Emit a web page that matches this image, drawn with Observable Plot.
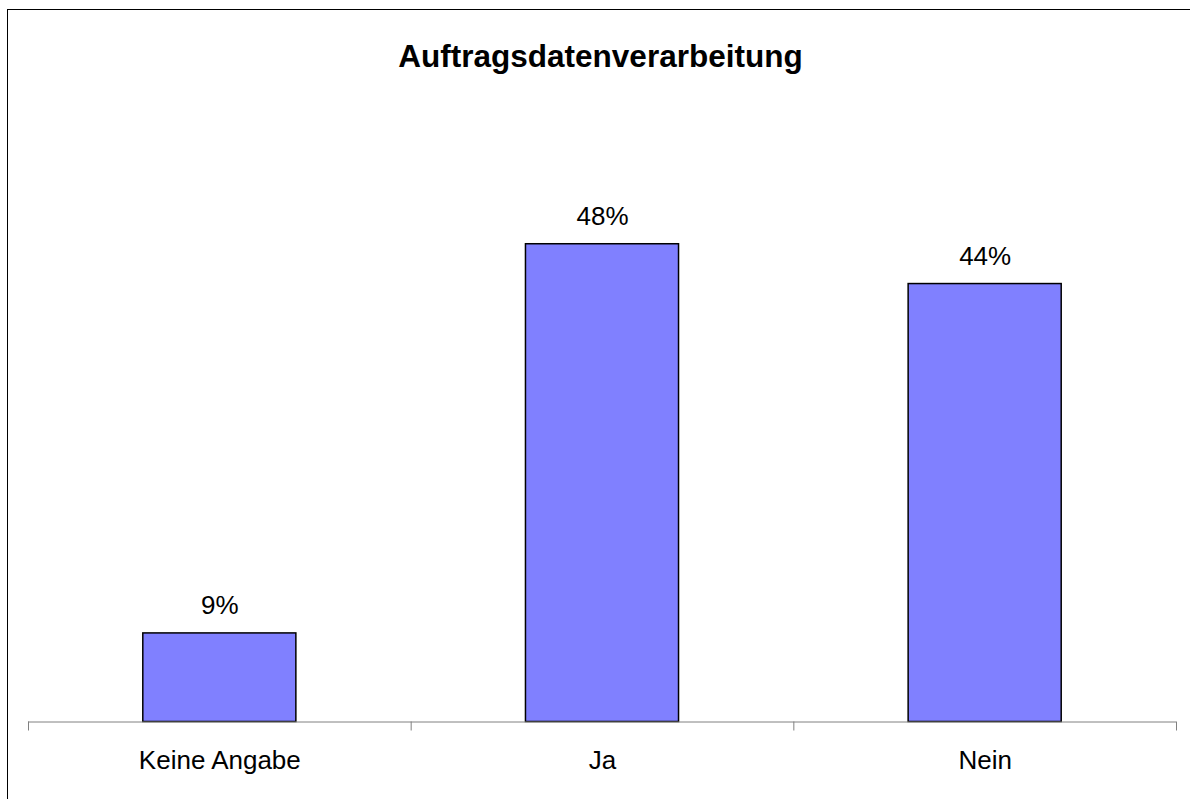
<!DOCTYPE html>
<html><head><meta charset="utf-8">
<script src="https://cdn.jsdelivr.net/npm/d3@7"></script>
<script src="https://cdn.jsdelivr.net/npm/@observablehq/plot@0.6"></script>
<style>
html,body{margin:0;padding:0;background:#fff;overflow:hidden;color:#000}
#wrap{position:relative;width:1190px;height:799px;overflow:hidden;font-family:"Liberation Sans",Arial,sans-serif}
#frame{position:absolute;left:7px;top:9px;width:1300px;height:900px;border:1px solid #000;box-sizing:border-box}
#title{position:absolute;left:7px;top:41px;width:1187px;text-align:center;font-weight:bold;font-size:31.5px;line-height:31.5px}
#chart{position:absolute;left:0;top:0}
</style></head><body>
<div id="wrap"><div id="frame"></div><div id="chart"></div><div id="title">Auftragsdatenverarbeitung</div></div>
<script>
const categories = ["Keine Angabe", "Ja", "Nein"];
const values = [8.9, 48, 44];
const valueLabels = ["9%", "48%", "44%"];
const yMax = 60;

const data = categories.map((c, i) => ({cat: c, value: values[i], label: valueLabels[i]}));

const W = 1190, H = 799, ML = 28, MR = 14;
const step = (W - ML - MR) / categories.length;

const chart = Plot.plot({
  width: W,
  height: H,
  marginLeft: ML,
  marginRight: MR,
  marginTop: 124.3,
  marginBottom: 77.5,
  style: {fontFamily: "'Liberation Sans', Arial, sans-serif", background: "transparent", color: "#000"},
  x: {domain: categories, paddingInner: 0.6, paddingOuter: 0.3, round: false, axis: null, label: null},
  y: {domain: [0, yMax], axis: null, label: null},
  marks: [
    Plot.barY(data, {x: "cat", y: "value", fill: "#8080ff", stroke: "#000", strokeWidth: 1.5}),
    Plot.ruleY([0], {stroke: "#808080", strokeWidth: 1}),
    Plot.axisX(categories, {tickSize: 9, tickFormat: () => "", dx: -step / 2, stroke: "#808080", label: null}),
    Plot.axisX([categories[categories.length - 1]], {tickSize: 9, tickFormat: () => "", dx: step / 2, stroke: "#808080", label: null}),
    Plot.axisX(categories, {tickSize: 0, tickPadding: 28.5, fontSize: 26, label: null, fill: "#000"}),
    Plot.text(data, {x: "cat", y: "value", text: "label", lineAnchor: "bottom", dy: -19.5, fontSize: 26, fill: "#000"})
  ]
});
document.getElementById("chart").appendChild(chart);
</script>
</body></html>
